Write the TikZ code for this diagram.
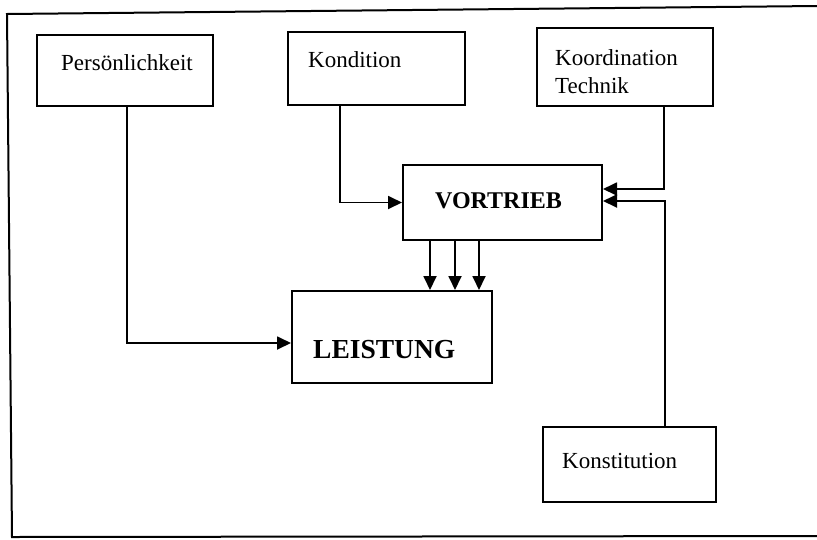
\documentclass[tikz,border=0pt]{standalone}
\usepackage{fontspec}
\setmainfont{Liberation Serif}
\usetikzlibrary{arrows.meta}

\begin{document}
\begin{tikzpicture}[x=1pt, y=-1pt,
  box/.style={rectangle, draw=black, line width=2pt, inner sep=0pt},
  lbl/.style={anchor=base west, inner sep=0pt, align=left, font=\fontsize{23}{28}\selectfont},
  fett/.style={anchor=base west, inner sep=0pt, font=\bfseries\fontsize{24}{28}\selectfont},
  pfeil/.style={line width=1.8pt, -{Triangle[length=14pt,width=13pt]}}]
\useasboundingbox (0,0) rectangle (817,539);
% frame
\draw [line width=2pt] (817,6) -- (7,14) -- (12,537) -- (817,536);
% boxes
\node (pers) [box, minimum width=176pt, minimum height=71pt] at (125,70.5) {};
\node (kond) [box, minimum width=177pt, minimum height=73pt] at (376.5,68.5) {};
\node (koord) [box, minimum width=176pt, minimum height=78pt] at (625,67) {};
\node (vort) [box, minimum width=199pt, minimum height=75pt] at (502.5,202.5) {};
\node (leist) [box, minimum width=200pt, minimum height=92pt] at (392,337) {};
\node (konst) [box, minimum width=173pt, minimum height=75pt] at (629.5,464.5) {};
% texts
\node (perstxt) [lbl] at (61,70) {Persönlichkeit};
\node (kondtxt) [lbl] at (308,67) {Kondition};
\node (koordtxt) [lbl] at (555,93) {Koordination\\Technik};
\node (konsttxt) [lbl] at (562,468) {Konstitution};
\node (vorttxt) [fett] at (435,208) {VORTRIEB};
\node (leisttxt) [fett, font=\bfseries\fontsize{27.5}{30}\selectfont] at (313,358) {LEISTUNG};
% arrows
\draw [pfeil] ([xshift=2pt]pers.south) |- ([yshift=-6pt]leist.west);
\draw [pfeil] ([xshift=-36.5pt]kond.south) |- (vort.west);
\draw [pfeil] ([xshift=39pt]koord.south) |- ([yshift=13.5pt]vort.east);
\draw [pfeil] ([xshift=35.5pt]konst.north) |- ([yshift=1.5pt]vort.east);
\foreach \dx in {-72.5,-47.5,-23.5}
  \draw [pfeil] ([xshift=\dx pt]vort.south) -- ([xshift=\dx pt]vort.south |- leist.north);
\end{tikzpicture}
\end{document}
